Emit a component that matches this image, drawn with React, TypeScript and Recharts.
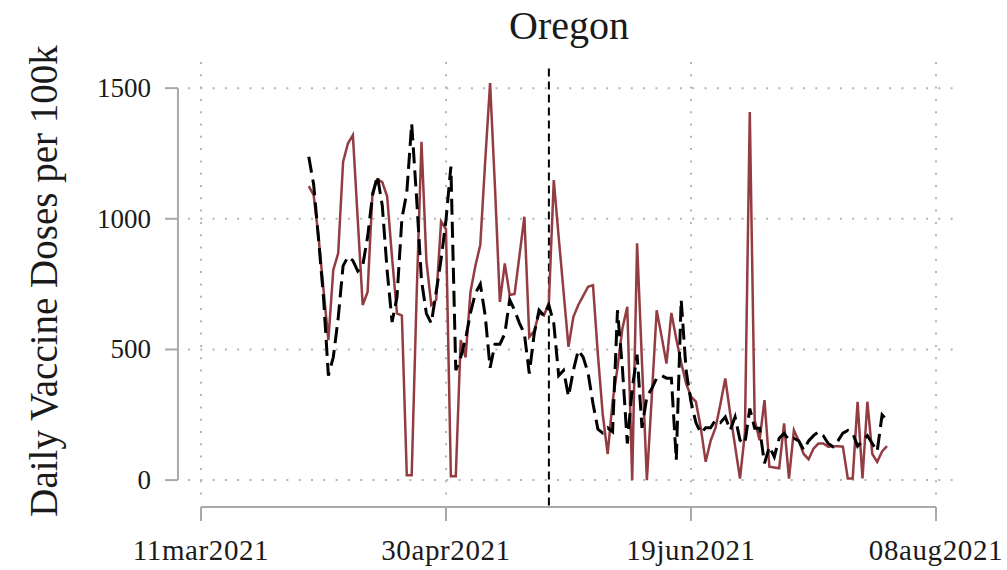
import { CartesianGrid, Line, LineChart, ReferenceLine, XAxis, YAxis } from "recharts";

// days are counted from 11mar2021 (day 0)
const firstDay = 22;

// red solid series (reported doses per 100k)
const actualDoses = [
  1125, 1090, 930, 730, 536, 804, 868, 1218, 1289, 1320,
  995, 670, 720, 1100, 1150, 1140, 1085, 850, 638, 630,
  19, 19, 700, 1295, 840, 670, 690, 990, 960, 15,
  15, 536, 470, 720, 820, 900, 1220, 1519, 1120, 682,
  829, 708, 712, 860, 1008, 548, 570, 640, 630, 680,
  1148, 930, 720, 510, 625, 670, 705, 740, 746, 480,
  250, 100, 300, 430, 580, 663, 0, 906, 450, 0,
  320, 650, 550, 446, 640, 540, 450, 370, 320, 300,
  200, 70, 150, 200, 290, 389, 255, 130, 6, 180,
  1409, 230, 153, 306, 51, 48, 45, 217, 6, 191,
  150, 100, 80, 120, 140, 140, 128, 130, 130, 128,
  6, 6, 300, 6, 300, 100, 70, 110, 130,
];

// black dashed series (synthetic control)
const syntheticDoses = [
  1237, 1130, 920, 700, 400, 470, 620, 820, 855, 840,
  800, 820, 930, 1090, 1165, 1050, 800, 605, 700, 1000,
  1100, 1364, 1080, 765, 637, 600, 720, 845, 995, 1200,
  421, 470, 540, 640, 715, 750, 630, 430, 520, 520,
  560, 690, 650, 600, 560, 408, 560, 650, 630, 670,
  600, 400, 420, 320, 420, 497, 470, 410, 293, 195,
  180, 200, 185, 650, 430, 140, 350, 480, 200, 320,
  350, 390, 400, 390, 390, 77, 690, 420, 300, 220,
  180, 200, 200, 230, 220, 242, 191, 242, 153, 140,
  274, 198, 198, 64, 128, 89, 160, 179, 153, 160,
  150, 115, 150, 170, 185, 170, 140, 128, 150, 180,
  190, 180, 130, 150, 170, 140, 110, 250, 230,
];

const xTickDays = [0, 50, 100, 150];
const xTickLabels = ["11mar2021", "30apr2021", "19jun2021", "08aug2021"];
const yTicks = [0, 500, 1000, 1500];
const eventDay = 71;

const data = actualDoses.map((v, i) => ({
  day: firstDay + i,
  actual: v,
  synthetic: syntheticDoses[i],
}));

const font = '"Liberation Serif", "Times New Roman", serif';
const axisGray = "#a9a9a9";
const textColor = "#1a1a1a";

function YTick({ y, payload }: { y: number; payload: { value: number } }) {
  return (
    <g>
      <line x1={165} x2={178} y1={y} y2={y} stroke={axisGray} strokeWidth={2} />
      <text
        x={151}
        y={y}
        textAnchor="end"
        dominantBaseline="central"
        fontFamily={font}
        fontSize={27}
        fill={textColor}
      >
        {payload.value}
      </text>
    </g>
  );
}

function XTick({ x, payload }: { x: number; payload: { value: number } }) {
  const label = xTickLabels[xTickDays.indexOf(payload.value)];
  return (
    <g>
      <line x1={x} x2={x} y1={507} y2={521} stroke={axisGray} strokeWidth={2} />
      <text
        x={x}
        y={550}
        textAnchor="middle"
        dominantBaseline="central"
        fontFamily={font}
        fontSize={29}
        letterSpacing={0.6}
        fill={textColor}
      >
        {label}
      </text>
    </g>
  );
}

export default function App() {
  return (
    <div style={{ position: "absolute", left: 0, top: 0, width: 1007, height: 570, background: "#fff" }}>
      <div
        style={{
          position: "absolute",
          left: 369,
          width: 400,
          top: 2,
          textAlign: "center",
          fontFamily: font,
          fontSize: 40,
          color: textColor,
        }}
      >
        Oregon
      </div>
      <div
        style={{
          position: "absolute",
          left: 43,
          top: 281,
          transform: "translate(-50%, -50%) rotate(-90deg)",
          whiteSpace: "nowrap",
          fontFamily: font,
          fontSize: 39,
          color: textColor,
        }}
      >
        Daily Vaccine Doses per 100k
      </div>
      <LineChart
        width={1007}
        height={570}
        data={data}
        margin={{ top: 62, right: 47, bottom: 0, left: 0 }}
        style={{ position: "absolute", left: 0, top: 0 }}
      >
        <CartesianGrid stroke="#b5b5b5" strokeWidth={2} strokeDasharray="2 10.3" syncWithTicks />
        <XAxis
          type="number"
          dataKey="day"
          domain={[-2.65, 154.9]}
          ticks={xTickDays}
          allowDataOverflow
          axisLine={false}
          tickLine={false}
          height={75}
          tick={XTick}
          interval={0}
        />
        <YAxis
          type="number"
          domain={[-57, 1600]}
          ticks={yTicks}
          allowDataOverflow
          axisLine={false}
          tickLine={false}
          width={188}
          tick={YTick}
          interval={0}
        />
        <ReferenceLine
          segment={[
            { x: -4.7, y: 0 },
            { x: -4.7, y: 1500 },
          ]}
          stroke={axisGray}
          strokeWidth={2}
          ifOverflow="visible"
        />
        <ReferenceLine
          segment={[
            { x: 0, y: -103 },
            { x: 150, y: -103 },
          ]}
          stroke={axisGray}
          strokeWidth={2}
          ifOverflow="visible"
        />
        <ReferenceLine
          segment={[
            { x: eventDay, y: 1575 },
            { x: eventDay, y: -100 },
          ]}
          stroke="#000"
          strokeWidth={2}
          strokeDasharray="8 5"
          ifOverflow="visible"
        />
        <Line
          type="linear"
          dataKey="actual"
          stroke="#933c42"
          strokeWidth={2.5}
          dot={false}
          isAnimationActive={false}
        />
        <Line
          type="linear"
          dataKey="synthetic"
          stroke="#000"
          strokeWidth={3}
          strokeDasharray="16 7"
          dot={false}
          isAnimationActive={false}
        />
      </LineChart>
    </div>
  );
}
